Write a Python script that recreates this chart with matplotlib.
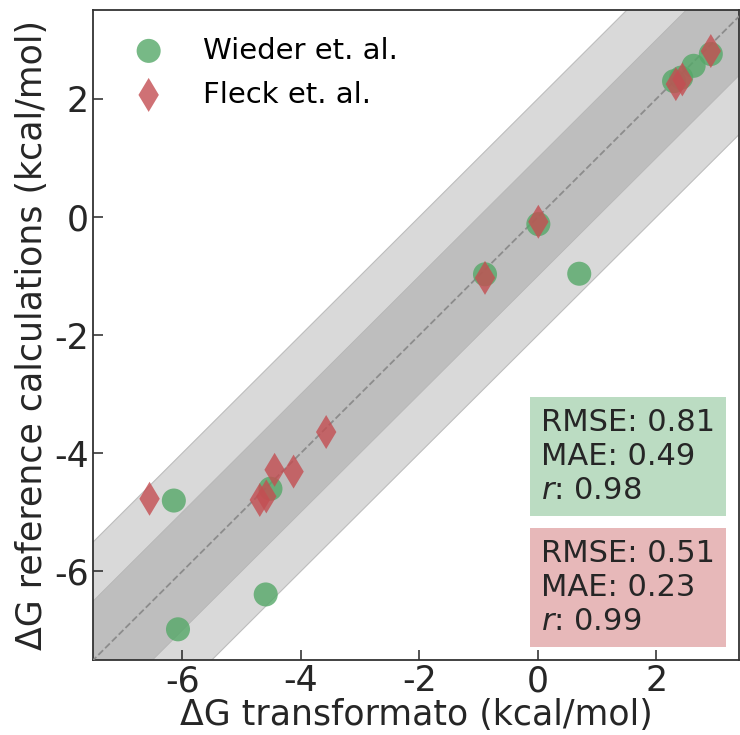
import numpy as np
import matplotlib
matplotlib.use("Agg")
import matplotlib.pyplot as plt

# Wieder et. al. (x: transformato, y: reference)
wieder_x = [2.92, 2.63, 2.30, 2.42, 0.01, -0.89, 0.70, -6.14, -4.51, -4.59, -6.07]
wieder_y = [2.76, 2.56, 2.30, 2.36, -0.12, -0.97, -0.96, -4.80, -4.60, -6.39, -6.98]

# Fleck et. al.
fleck_x = [2.92, 2.33, 2.44, 0.01, -0.89, -6.55, -3.57, -4.44, -4.12, -4.69, -4.58]
fleck_y = [2.81, 2.25, 2.33, -0.08, -1.03, -4.77, -3.64, -4.28, -4.31, -4.79, -4.73]

wieder_stats = "RMSE: 0.81\nMAE: 0.49\n$r$: 0.98"
fleck_stats = "RMSE: 0.51\nMAE: 0.23\n$r$: 0.99"

green = "#55a868"
red = "#c44e52"

plt.rcParams['font.family'] = ['DejaVu Sans']
plt.rcParams['axes.unicode_minus'] = False
fig = plt.figure(figsize=(7.4, 7.35), dpi=100)
ax = fig.add_axes([0.126, 0.102, 0.873, 0.884])

xmin, xmax = -7.5, 3.4
ymin, ymax = -7.5, 3.5
line = np.linspace(-9, 5, 10)

# bands of +-2 and +-1 kcal/mol
ax.fill_between(line, line - 2, line + 2, facecolor="#d9d9d9", edgecolor="#bdbdbd", lw=0.8, zorder=1)
ax.fill_between(line, line - 1, line + 1, facecolor="#bebebe", edgecolor="#b6b6b6", lw=0.6, zorder=2)
ax.plot(line, line, ls="--", color="#8c8c8c", lw=1.3, zorder=3)

ax.scatter(wieder_x, wieder_y, s=300, marker="o", color=green, alpha=0.8,
           edgecolors="none", zorder=4, label="Wieder et. al.")
ax.scatter(fleck_x, fleck_y, s=300, marker="d", color=red, alpha=0.8,
           edgecolors="none", zorder=5, label="Fleck et. al.")

ax.set_xlim(xmin, xmax)
ax.set_ylim(ymin, ymax)
ax.set_xticks([-6, -4, -2, 0, 2])
ax.set_yticks([-6, -4, -2, 0, 2])
ax.tick_params(direction="in", length=7, width=1.1, labelsize=25, colors="#262626",
               pad=3)
for sp in ax.spines.values():
    sp.set_color("#333333")
    sp.set_linewidth(1.3)

ax.set_xlabel("ΔG transformato (kcal/mol)", fontsize=25, color="#262626", labelpad=0)
ax.set_ylabel("ΔG reference calculations (kcal/mol)", fontsize=25, color="#262626", labelpad=4)

ax.legend(loc="upper left", frameon=False, fontsize=21, handletextpad=0.85,
          borderaxespad=0.5, labelspacing=0.55)

ax.text(0.693, 0.388, wieder_stats, transform=ax.transAxes, fontsize=22, color="#262626",
        va="top", ha="left", linespacing=1.22, zorder=6,
        bbox=dict(boxstyle="square,pad=0.36", facecolor=green, alpha=0.4, edgecolor="none"))
ax.text(0.693, 0.186, fleck_stats, transform=ax.transAxes, fontsize=22, color="#262626",
        va="top", ha="left", linespacing=1.22, zorder=6,
        bbox=dict(boxstyle="square,pad=0.36", facecolor=red, alpha=0.4, edgecolor="none"))

fig.savefig("out.png", dpi=100)
